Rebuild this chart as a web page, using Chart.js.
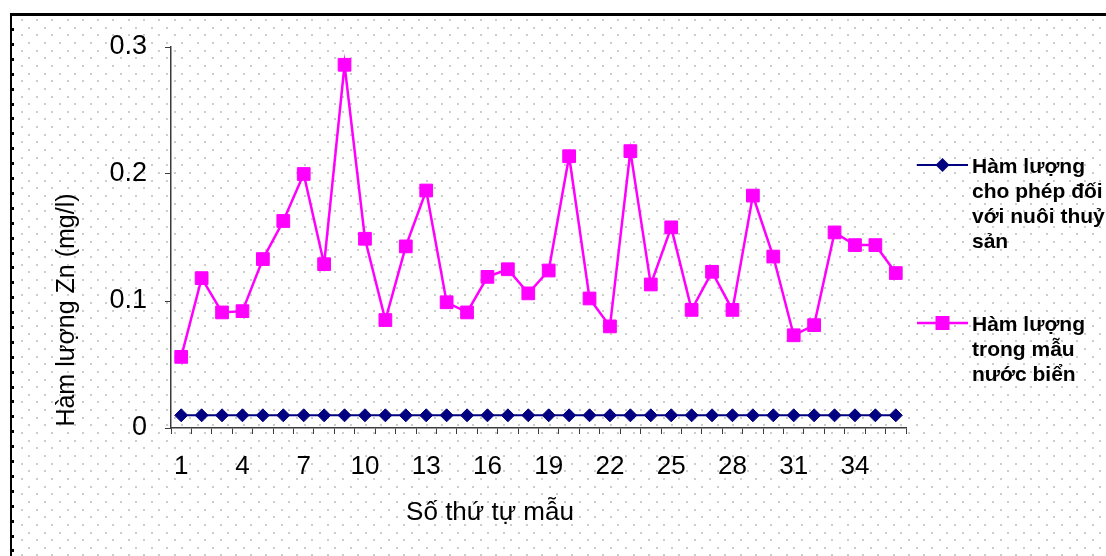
<!DOCTYPE html>
<html>
<head>
<meta charset="utf-8">
<script src="https://cdn.jsdelivr.net/npm/chart.js@4.4.1/dist/chart.umd.min.js"></script>
<style>
  html, body { margin: 0; padding: 0; background: #fff; }
  canvas { display: block; }
</style>
</head>
<body>
<canvas id="c" width="1106" height="556"></canvas>
<script>
// Sample numbers along the x axis
const sampleNumbers = ['1','2','3','4','5','6','7','8','9','10','11','12','13','14','15','16','17','18',
  '19','20','21','22','23','24','25','26','27','28','29','30','31','32','33','34','35','36'];

// Permitted Zn level for aquaculture (mg/l)
const allowedZn = [0.01,0.01,0.01,0.01,0.01,0.01,0.01,0.01,0.01,0.01,0.01,0.01,0.01,0.01,0.01,0.01,0.01,0.01,
  0.01,0.01,0.01,0.01,0.01,0.01,0.01,0.01,0.01,0.01,0.01,0.01,0.01,0.01,0.01,0.01,0.01,0.01];

// Measured Zn in seawater samples (mg/l)
const seawaterZn = [0.056,0.118,0.091,0.092,0.133,0.163,0.200,0.129,0.286,0.149,0.085,0.143,0.187,0.099,0.091,0.119,0.125,0.106,
  0.124,0.214,0.102,0.080,0.218,0.113,0.158,0.093,0.123,0.093,0.183,0.135,0.073,0.081,0.154,0.144,0.144,0.122];

const yTickValues = [0, 0.1, 0.2, 0.3];
const xLabelEvery = 3;

const legendLines = [
  ['Hàm lượng', 'cho phép đối', 'với nuôi thuỷ', 'sản'],
  ['Hàm lượng', 'trong mẫu', 'nước biển']
];
const xTitle = 'Số thứ tự mẫu';
const yTitle = 'Hàm lượng Zn (mg/l)';

const FONT = '"Liberation Sans", Arial, sans-serif';
const AXIS = '#3c3c3c';

// Frame, dotted paper background
const paperPlugin = {
  id: 'paper',
  beforeDraw(chart) {
    const ctx = chart.ctx;
    const W = chart.width, H = chart.height;
    ctx.save();
    ctx.fillStyle = '#ffffff';
    ctx.fillRect(0, 0, W, H);
    // staggered dot grid
    ctx.fillStyle = '#cccccc';
    const sx = 15.3, sy = 7.65;
    let row = 0;
    for (let y = 19; y < H; y += sy, row++) {
      const off = (row % 2 === 0) ? 3.3 : 11.0;
      for (let x = 12 + off - 10; x < W; x += sx) {
        if (x < 14) continue;
        ctx.fillRect(Math.round(x), Math.round(y), 2, 2);
      }
    }
    // frame lines
    ctx.fillStyle = '#000';
    ctx.fillRect(10, 13, W - 10, 3);
    ctx.fillRect(10, 13, 2, H - 13);
    // beads on the left edge
    for (let y = 29; y < H; y += 14.9) {
      ctx.fillRect(11, Math.round(y) - 1, 3, 3);
    }
    ctx.restore();
  }
};

// Axis titles and the side legend
const labelsPlugin = {
  id: 'labels',
  afterDraw(chart) {
    const ctx = chart.ctx;
    ctx.save();
    ctx.fillStyle = '#000';
    ctx.font = '26px ' + FONT;

    // x title
    ctx.textAlign = 'center';
    ctx.textBaseline = 'alphabetic';
    ctx.fillText(xTitle, 490, 520);

    // y title
    ctx.save();
    ctx.translate(74, 310);
    ctx.rotate(-Math.PI / 2);
    ctx.font = '25px ' + FONT;
    ctx.textAlign = 'center';
    ctx.fillText(yTitle, 0, 0);
    ctx.restore();

    // legend
    const rows = [165, 323];
    chart.data.datasets.forEach((ds, i) => {
      const y = rows[i];
      ctx.strokeStyle = ds.borderColor;
      ctx.lineWidth = ds.borderWidth;
      ctx.beginPath();
      ctx.moveTo(917, y);
      ctx.lineTo(968, y);
      ctx.stroke();
      ctx.fillStyle = ds.pointBackgroundColor;
      ctx.beginPath();
      if (ds.pointStyle === 'rectRot') {
        const r = 7;
        ctx.moveTo(942.5 - r, y);
        ctx.lineTo(942.5, y - r);
        ctx.lineTo(942.5 + r, y);
        ctx.lineTo(942.5, y + r);
        ctx.closePath();
      } else {
        ctx.rect(942.5 - 7, y - 7, 14, 14);
      }
      ctx.fill();

      ctx.fillStyle = '#000';
      ctx.font = 'bold 21px ' + FONT;
      ctx.textAlign = 'left';
      ctx.textBaseline = 'alphabetic';
      legendLines[i].forEach((t, k) => ctx.fillText(t, 972, y + 8 + k * 25));
    });
    ctx.restore();
  }
};

new Chart(document.getElementById('c'), {
  type: 'line',
  data: {
    labels: sampleNumbers,
    datasets: [
      {
        label: legendLines[0].join(' '),
        data: allowedZn,
        borderColor: '#000080',
        backgroundColor: '#000080',
        pointBackgroundColor: '#000080',
        pointBorderColor: '#000080',
        borderWidth: 2,
        pointStyle: 'rectRot',
        pointRadius: 6.5,
        pointBorderWidth: 1,
        tension: 0
      },
      {
        label: legendLines[1].join(' '),
        data: seawaterZn,
        borderColor: '#ff00ff',
        backgroundColor: '#ff00ff',
        pointBackgroundColor: '#ff00ff',
        pointBorderColor: '#ff00ff',
        borderWidth: 2.5,
        pointStyle: 'rect',
        pointRadius: 9,
        pointBorderWidth: 1,
        tension: 0
      }
    ]
  },
  options: {
    responsive: false,
    animation: false,
    events: [],
    layout: { padding: { top: 47, right: 200, left: 0, bottom: 0 } },
    plugins: {
      legend: { display: false },
      tooltip: { enabled: false },
      title: { display: false }
    },
    scales: {
      x: {
        type: 'category',
        offset: true,
        grid: {
          offset: true,
          drawOnChartArea: false,
          drawTicks: true,
          tickLength: 6,
          color: AXIS,
          lineWidth: 1
        },
        border: { display: true, color: AXIS, width: 1.5 },
        ticks: {
          autoSkip: false,
          maxRotation: 0,
          minRotation: 0,
          padding: 17,
          color: '#000',
          font: { family: FONT, size: 26 },
          callback: (v, i) => (i % xLabelEvery === 0 ? sampleNumbers[i] : '')
        },
        afterFit: s => { s.height = 128; }
      },
      y: {
        min: 0,
        max: 0.3,
        grid: {
          drawOnChartArea: false,
          drawTicks: true,
          tickLength: 6,
          color: AXIS,
          lineWidth: 1
        },
        border: { display: true, color: AXIS, width: 1.5 },
        ticks: {
          padding: 18,
          color: '#000',
          font: { family: FONT, size: 27 },
          callback: v => String(v)
        },
        afterBuildTicks: s => { s.ticks = yTickValues.map(v => ({ value: v })); },
        afterFit: s => { s.width = 171; }
      }
    }
  },
  plugins: [paperPlugin, labelsPlugin]
});
</script>
</body>
</html>
